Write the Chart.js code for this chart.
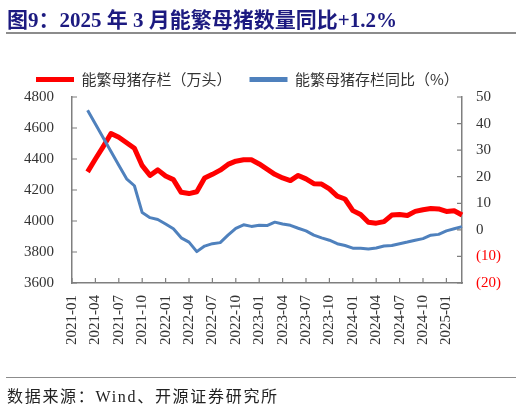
<!DOCTYPE html>
<html>
<head>
<meta charset="utf-8">
<script src="https://cdn.jsdelivr.net/npm/chart.js@4.4.1/dist/chart.umd.min.js"></script>
<style>
  body { margin: 0; background: #fff; }
  .page { position: relative; width: 522px; height: 408px; overflow: hidden; }
  canvas { position: absolute; left: 0; top: 0; }
  .title {
    position: absolute; left: 7px; top: 3px;
    font: bold 21px "Liberation Serif", "Noto Sans CJK SC", serif;
    color: #1c1a80; white-space: nowrap;
  }
  .rule { position: absolute; left: 6px; width: 510px; background: #8c8c8c; }
  .source {
    position: absolute; left: 7px; top: 383px;
    font: 16px "Liberation Serif", "Noto Sans CJK SC", serif;
    color: #222; letter-spacing: 1.7px; white-space: nowrap;
  }
</style>
</head>
<body>
<div class="page">
  <canvas id="chart" width="522" height="408"></canvas>
  <div class="title">图9：2025 年 3 月能繁母猪数量同比+1.2%</div>
  <div class="rule" style="top:32px;height:2px"></div>
  <div class="rule" style="top:377px;height:1px"></div>
  <div class="source">数据来源：Wind、开源证券研究所</div>
</div>
<script>
// months 2021-01 .. 2025-03, data begins 2021-03
const months = [
  '2021-01','2021-02','2021-03','2021-04','2021-05','2021-06','2021-07','2021-08','2021-09','2021-10','2021-11','2021-12',
  '2022-01','2022-02','2022-03','2022-04','2022-05','2022-06','2022-07','2022-08','2022-09','2022-10','2022-11','2022-12',
  '2023-01','2023-02','2023-03','2023-04','2023-05','2023-06','2023-07','2023-08','2023-09','2023-10','2023-11','2023-12',
  '2024-01','2024-02','2024-03','2024-04','2024-05','2024-06','2024-07','2024-08','2024-09','2024-10','2024-11','2024-12',
  '2025-01','2025-02','2025-03'
];
const sowStock = [
  null, null, 4317, 4400, 4480, 4564, 4540, 4505, 4469, 4357, 4294, 4330,
  4290, 4267, 4185, 4177, 4189, 4277, 4301, 4328, 4365, 4386, 4395, 4395,
  4368, 4335, 4301, 4278, 4261, 4294, 4272, 4241, 4238, 4207, 4160, 4142,
  4067, 4042, 3992, 3986, 3996, 4038, 4042, 4036, 4062, 4073, 4080, 4078,
  4062, 4066, 4039
];
const sowYoY = [
  null, null, 45.0, 39.8, 34.7, 29.5, 24.3, 19.2, 16.6, 6.5, 4.6, 3.9,
  2.2, 0.4, -3.0, -4.6, -8.2, -6.1, -5.2, -4.8, -2.0, 0.6, 1.9, 1.3,
  1.7, 1.6, 2.9, 2.2, 1.7, 0.6, -0.4, -2.0, -3.0, -3.9, -5.2, -5.9,
  -6.9, -6.9, -7.2, -6.8, -6.1, -5.9, -5.2, -4.6, -3.9, -3.3, -2.0, -1.7,
  -0.4, 0.4, 1.2
];
const seriesNames = ['能繁母猪存栏（万头）', '能繁母猪存栏同比（%）'];

const axisColor = '#7f7f7f'
const tickFont = { family: '"Liberation Serif", "Times New Roman", serif', size: 15 }

// short tick marks pointing into the plot, like the source chart
const innerTicks = {
  id: 'innerTicks',
  afterDraw(chart) {
    const { ctx, chartArea, scales } = chart;
    ctx.save();
    ctx.strokeStyle = axisColor;
    ctx.lineWidth = 1.2;
    ctx.beginPath();
    scales.x.ticks.forEach((t, i) => {
      const px = scales.x.getPixelForTick(i);
      ctx.moveTo(px, chartArea.bottom);
      ctx.lineTo(px, chartArea.bottom - 5);
    });
    scales.y.ticks.forEach((t, i) => {
      const py = scales.y.getPixelForTick(i);
      ctx.moveTo(chartArea.left, py);
      ctx.lineTo(chartArea.left + 5, py);
    });
    scales.y2.ticks.forEach((t, i) => {
      const py = scales.y2.getPixelForTick(i);
      ctx.moveTo(chartArea.right, py);
      ctx.lineTo(chartArea.right - 5, py);
    });
    ctx.stroke();
    ctx.restore();
  }
};

new Chart(document.getElementById('chart'), {
  type: 'line',
  data: {
    labels: months,
    datasets: [{
      label: seriesNames[0],
      data: sowStock,
      yAxisID: 'y',
      borderColor: '#ff0000',
      backgroundColor: '#ff0000',
      borderWidth: 5,
      order: 1
    }, {
      label: seriesNames[1],
      data: sowYoY,
      yAxisID: 'y2',
      borderColor: '#4f81bd',
      backgroundColor: '#4f81bd',
      borderWidth: 3,
      order: 0
    }]
  },
  options: {
    responsive: false,
    animation: false,
    layout: { padding: { top: 54, left: 18, right: 0, bottom: 0 } },
    elements: {
      point: { radius: 0 },
      line: { tension: 0, borderJoinStyle: 'round', borderCapStyle: 'butt' }
    },
    plugins: {
      tooltip: { enabled: false },
      legend: {
        display: true,
        position: 'top',
        align: 'start',
        labels: {
          boxWidth: 38,
          boxHeight: 5,
          padding: 18,
          color: '#333',
          font: { family: '"Noto Sans CJK SC", sans-serif', size: 15 },
          sort: (a, b) => a.datasetIndex - b.datasetIndex,
          generateLabels: (chart) => Chart.defaults.plugins.legend.labels.generateLabels(chart).map(l => {
            l.lineWidth = 0;
            return l;
          })
        }
      }
    },
    scales: {
      x: {
        offset: false,
        grid: { display: false, drawTicks: false },
        border: { display: true, color: axisColor, width: 1.5 },
        afterFit: (s) => { s.height = 125 },
        ticks: {
          autoSkip: false,
          minRotation: 90,
          maxRotation: 90,
          padding: 12,
          color: '#333',
          font: tickFont,
          callback: function (v, i) { return i % 3 === 0 ? this.getLabelForValue(v) : null }
        }
      },
      y: {
        position: 'left',
        min: 3600,
        max: 4800,
        grid: { display: false, drawTicks: false },
        border: { display: true, color: axisColor, width: 1.5 },
        afterFit: (s) => { s.width = 54 },
        ticks: { stepSize: 200, padding: 18, color: '#333', font: tickFont, callback: (v) => String(v) }
      },
      y2: {
        position: 'right',
        min: -20,
        max: 50,
        grid: { display: false, drawTicks: false },
        border: { display: true, color: axisColor, width: 1.5 },
        afterFit: (s) => { s.width = 60 },
        ticks: {
          stepSize: 10,
          padding: 14,
          font: tickFont,
          color: (c) => c.tick && c.tick.value < 0 ? '#ff0000' : '#333',
          callback: (v) => v < 0 ? '(' + Math.abs(v) + ')' : String(v)
        }
      }
    }
  },
  plugins: [innerTicks]
});
</script>
</body>
</html>
